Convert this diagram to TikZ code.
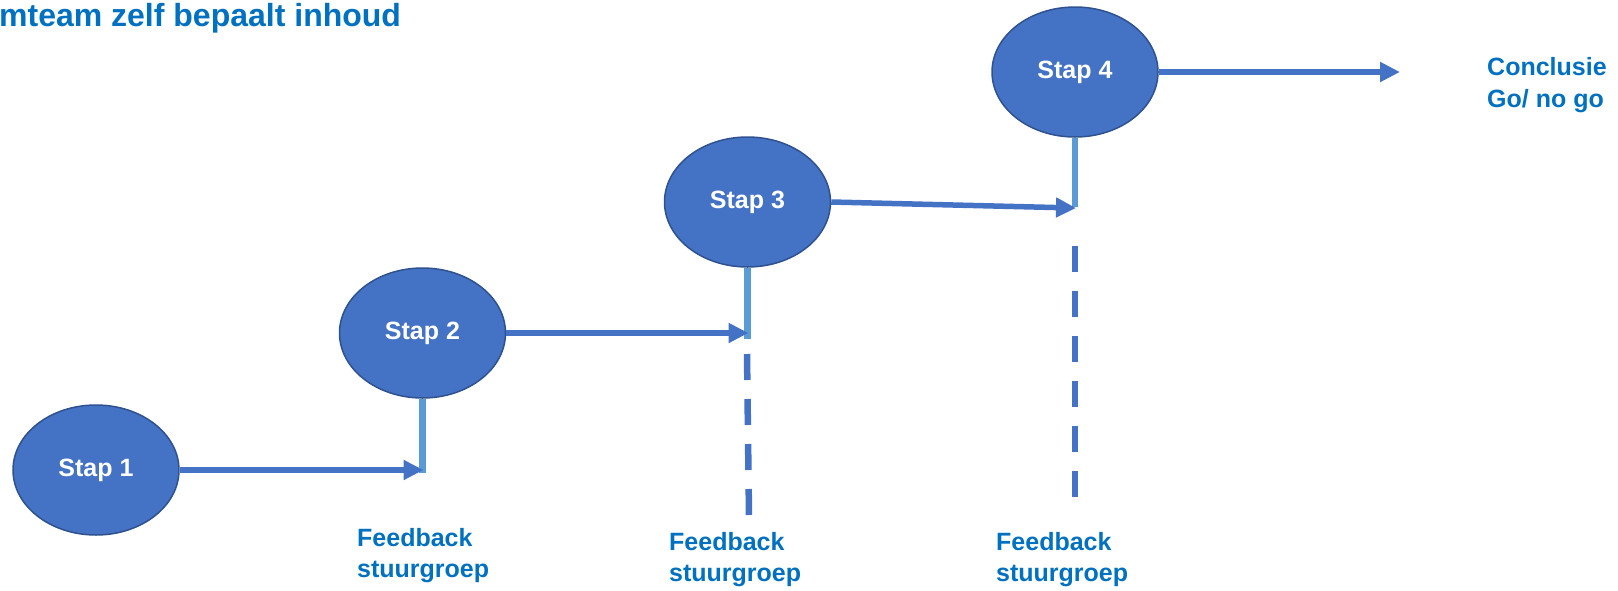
\documentclass[tikz,border=0pt]{standalone}
\usepackage{fontspec}
\setmainfont{Liberation Sans}
\usepackage{tikz}
\usetikzlibrary{shapes}
\usetikzlibrary{positioning}
\usetikzlibrary{arrows.meta}
\definecolor{stapblue}{HTML}{4472C4}
\definecolor{stapline}{HTML}{2F528F}
\definecolor{feedblue}{HTML}{5B9BD5}
\definecolor{textblue}{HTML}{0070C0}
\tikzset{
    stapnode/.style = {ellipse, draw=stapline, line width=1.5pt, fill=stapblue, minimum width=166pt, minimum height=130pt, inner sep=0pt, text=white, font=\bfseries\fontsize{25}{31}\selectfont},
    labeln/.style = {inner sep=0pt, align=left, text=textblue, font=\bfseries\fontsize{25}{31}\selectfont},
    edgen/.style = {-{Triangle[length=20pt,width=19pt]}, line width=5.5pt, stapblue, shorten >=-1pt},
    feedl/.style = {line width=6.5pt, feedblue},
    feedd/.style = {line width=6.5pt, stapblue, dash pattern=on 26pt off 19pt} % stuurgroep
}
\begin{document}
\begin{tikzpicture}[x=1pt,y=-1pt]
  \useasboundingbox (0,0) rectangle (1618,590);

  \node[inner sep=0pt, anchor=base west, text=textblue, font=\bfseries\fontsize{32}{38}\selectfont] (title) at (-1,26.7) {mteam zelf bepaalt inhoud};

  \node[stapnode] (s1) at (96,470) {Stap 1};
  \node[stapnode] (s2) at (422.5,333) {Stap 2};
  \node[stapnode] (s3) at (747.5,202) {Stap 3};
  \node[stapnode] (s4) at (1075,72) {Stap 4};

  \coordinate (k1) at (422.5,473);
  \coordinate (k2) at (747.5,339);
  \coordinate (k3) at (1075,207);
  \coordinate (e4) at (1399,72);
  \coordinate (d2a) at (747,354);
  \coordinate (d2b) at (749,516);
  \coordinate (d3a) at (1075,246);
  \coordinate (d3b) at (1075,497);

  \draw[feedl] (s2.south) -- (k1);
  \draw[feedl] (s3.south) -- (k2);
  \draw[feedl] (s4.south) -- (k3);

  \draw[edgen] (s1.east) -- (k1 |- s1.east);
  \draw[edgen] (s2.east) -- (k2 |- s2.east);
  \draw[edgen] (s3.east) -- ([yshift=-1pt]k3);
  \draw[edgen] (s4.east) -- (e4);

  \draw[feedd] (d2a) -- (d2b);
  \draw[feedd] (d3a) -- (d3b);

  % base = last line
  \node[labeln, anchor=base west] (f1) at (357,577) {Feedback\\stuurgroep};
  \node[labeln, anchor=base west] (f2) at (669,581) {Feedback\\stuurgroep};
  \node[labeln, anchor=base west] (f3) at (996,581) {Feedback\\stuurgroep};
  \node[labeln, anchor=base west, font=\bfseries\fontsize{25}{32}\selectfont] (c4) at (1487,107.7) {Conclusie\\Go/ no go};

 \end{tikzpicture}
\end{document}
